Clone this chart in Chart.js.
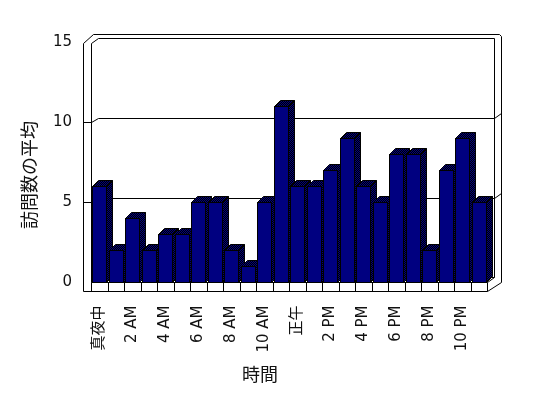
<!DOCTYPE html>
<html>
<head>
<meta charset="utf-8">
<script src="https://cdn.jsdelivr.net/npm/chart.js@4/dist/chart.umd.min.js"></script>
<style>
  body { margin: 0; background: #fff; }
  canvas { display: block; }
</style>
</head>
<body>
<canvas id="chart" width="548" height="398"></canvas>
<script>
const hours = ['真夜中', '1 AM', '2 AM', '3 AM', '4 AM', '5 AM', '6 AM', '7 AM', '8 AM', '9 AM', '10 AM', '11 AM',
    '正午', '1 PM', '2 PM', '3 PM', '4 PM', '5 PM', '6 PM', '7 PM', '8 PM', '9 PM', '10 PM', '11 PM'];
const visits = [6, 2, 4, 2, 3, 3, 5, 5, 2, 1, 5, 11, 6, 6, 7, 9, 6, 5, 8, 8, 2, 7, 9, 5];
const yTicks = [0, 5, 10, 15];
const yTitle = '訪問数の平均';
const xTitle = '時間';

const navy = '#000080';

// checkered navy/black fill for the shaded faces
function makeDither() {
    const c = document.createElement('canvas');
    c.width = 2; c.height = 2;
    const g = c.getContext('2d');
    g.fillStyle = '#000';
    g.fillRect(0, 0, 2, 2);
    g.fillStyle = navy;
    g.fillRect(0, 0, 1, 1);
    g.fillRect(1, 1, 1, 1);
    return c;
}

function seg(ctx, x1, y1, x2, y2) {
    ctx.beginPath();
    ctx.moveTo(x1, y1);
    ctx.lineTo(x2, y2);
    ctx.stroke();
}

// walls, floor, gridlines and axis text
const frame3d = {
    id: 'frame3d',
    beforeDatasetsDraw(chart) {
        const ctx = chart.ctx;
        const a = chart.chartArea;
        const ys = chart.scales.y;
        const L = Math.round(a.left) + 0.5;
        const R = Math.round(a.right) + 0.5;
        const outerL = L - 8;
        const wx = 7, wy = -5;
        const top = Math.round(ys.getPixelForValue(yTicks[yTicks.length - 1])) + 0.5;
        const bot = Math.round(ys.getPixelForValue(0)) + 0.5;
        const floorB = bot + 9;
        ctx.save();
        ctx.strokeStyle = '#000';
        ctx.lineWidth = 1;

        // left wall
        seg(ctx, outerL, top + 1, outerL, floorB);
        seg(ctx, L, top + 1, L, bot);
        seg(ctx, outerL, top + 1, outerL + 10, top - 8);
        seg(ctx, L, top + 1, L + wx, top + wy + 1);
        // top edges
        seg(ctx, outerL + 10, top - 8, R + wx + 5, top - 8);
        seg(ctx, L + wx, top + wy + 1, R + wx, top + wy + 1);
        // right wall
        seg(ctx, R + wx, top + wy + 1, R + wx, bot + wy);
        seg(ctx, R + wx + 5, top - 8, R + wx + 7, top - 6);
        seg(ctx, R + wx + 7, top - 6, R + wx + 7, bot);
        // back wall bottom + left wall bottom
        seg(ctx, L + wx, bot + wy, R + wx, bot + wy);
        seg(ctx, L, bot, L + wx, bot + wy);

        // gridlines on back wall
        yTicks.forEach(v => {
            if (v === 0 || v === yTicks[yTicks.length - 1]) return;
            const y = Math.round(ys.getPixelForValue(v)) + 0.5;
            seg(ctx, outerL, y, L, y);
            seg(ctx, L, y, L + wx, y + wy + 1);
            seg(ctx, L + wx, y + wy + 1, R + wx, y + wy + 1);
            seg(ctx, R + wx, y + wy + 1, R + wx + 7, y + wy - 4);
        });

        // floor front band with category dividers
        seg(ctx, L, bot, R, bot);
        seg(ctx, outerL, floorB, R, floorB);
        const n = hours.length;
        for (let i = 0; i <= n; i++) {
            const x = Math.round(a.left + (a.right - a.left) * i / n) + 0.5;
            seg(ctx, x, bot, x, floorB);
        }
        seg(ctx, R, floorB, R + wx + 7, bot);
        seg(ctx, R, bot, R + wx, bot + wy);

        // y tick labels
        ctx.fillStyle = '#111';
        ctx.font = '15px "DejaVu Sans", sans-serif';
        ctx.textAlign = 'right';
        ctx.textBaseline = 'middle';
        yTicks.forEach(v => {
            ctx.fillText(String(v), 72, ys.getPixelForValue(v));
        });

        // x tick labels, every other hour, rotated
        const meta = chart.getDatasetMeta(0);
        ctx.font = '15px "DejaVu Sans", "Noto Sans CJK JP", sans-serif';
        hours.forEach((h, i) => {
            if (i % 2) return;
            ctx.save();
            ctx.translate(meta.data[i].x, bot + 23);
            ctx.rotate(-Math.PI / 2);
            ctx.textAlign = 'right';
            ctx.textBaseline = 'middle';
            ctx.fillText(h, 0, 0);
            ctx.restore();
        });

        // axis titles
        ctx.font = '18px "Noto Sans CJK JP", sans-serif';
        ctx.textAlign = 'center';
        ctx.textBaseline = 'middle';
        ctx.fillText(xTitle, 260, 374);
        ctx.save();
        ctx.translate(29, 175);
        ctx.rotate(-Math.PI / 2);
        ctx.fillText(yTitle, 0, 0);
        ctx.restore();
        ctx.restore();
    },
    afterDatasetsDraw(chart) {
        const ctx = chart.ctx;
        const meta = chart.getDatasetMeta(0);
        const dither = ctx.createPattern(makeDither(), 'repeat');
        const dx = 6, dy = -6;
        ctx.save();
        ctx.strokeStyle = '#000';
        ctx.lineWidth = 1;
        meta.data.forEach(bar => {
            const x0 = Math.round(bar.x - bar.width / 2) + 0.5;
            const x1 = Math.round(bar.x + bar.width / 2) + 0.5;
            const yt = Math.round(bar.y) + 0.5;
            const yb = Math.round(bar.base) + 0.5;
            // side
            ctx.beginPath();
            ctx.moveTo(x1, yt);
            ctx.lineTo(x1 + dx, yt + dy);
            ctx.lineTo(x1 + dx, yb + dy);
            ctx.lineTo(x1, yb);
            ctx.closePath();
            ctx.fillStyle = dither;
            ctx.fill();
            ctx.stroke();
            // top
            ctx.beginPath();
            ctx.moveTo(x0, yt);
            ctx.lineTo(x0 + dx, yt + dy);
            ctx.lineTo(x1 + dx, yt + dy);
            ctx.lineTo(x1, yt);
            ctx.closePath();
            ctx.fill();
            ctx.stroke();
            // front
            ctx.fillStyle = navy;
            ctx.fillRect(x0, yt, x1 - x0, yb - yt);
            ctx.strokeRect(x0, yt, x1 - x0, yb - yt);
        });
        ctx.restore();
    }
};

const ctx = document.getElementById('chart').getContext('2d');
const visitChart = new Chart(ctx, {
    type: 'bar',
    data: {
        labels: hours,
        datasets: [{
            data: visits,
            backgroundColor: 'rgba(0,0,0,0)',
            borderWidth: 0,
            barPercentage: 0.85,
            categoryPercentage: 1
        }]
    },
    options: {
        responsive: false,
        animation: false,
        layout: { padding: { left: 91, right: 61, top: 42, bottom: 116 } },
        scales: {
            x: { display: false },
            y: { display: false, min: 0, max: 15 }
        },
        plugins: {
            legend: { display: false },
            tooltip: { enabled: false }
        }
    },
    plugins: [frame3d]
});
</script>
</body>
</html>
